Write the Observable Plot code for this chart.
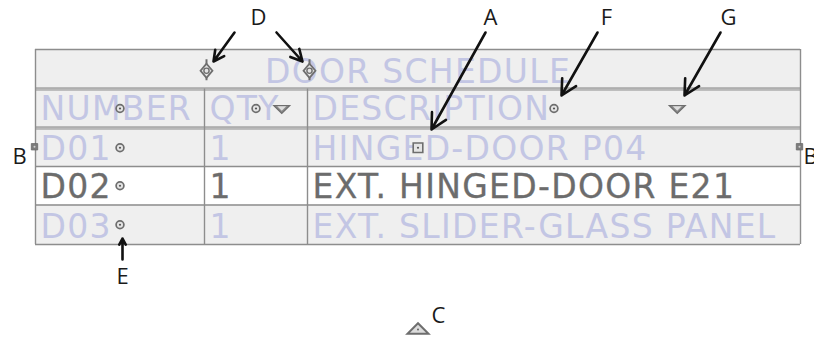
<!DOCTYPE html>
<html>
<head>
<meta charset="utf-8">
<script src="https://cdn.jsdelivr.net/npm/d3@7"></script>
<script src="https://cdn.jsdelivr.net/npm/@observablehq/plot@0.6"></script>
<style>
  html, body { margin: 0; padding: 0; background: #ffffff; overflow: hidden; }
  #chart svg { display: block; }
</style>
</head>
<body>
<div id="chart"></div>
<script>
// ---------- table content ----------
const title = "DOOR SCHEDULE";
const headers = ["NUMBER", "QTY", "DESCRIPTION"];
const numbers = ["D01", "D02", "D03"];
const qtys = ["1", "1", "1"];
const descriptions = ["HINGED-DOOR P04", "EXT. HINGED-DOOR E21", "EXT. SLIDER-GLASS PANEL"];
const activeRow = "D02";

// ---------- callout labels ----------
const labelNames = ["D", "A", "F", "G", "B", "B", "E", "C"];
const labelX     = [258, 490, 606, 728, 19, 810, 122, 438];
const labelY     = [24, 24, 24, 24, 163, 163, 283, 322];
const labelAnchor = ["middle", "middle", "middle", "middle", "middle", "start", "middle", "middle"];

// ---------- callout arrows (tail -> head) ----------
const arrowX1 = [234, 276, 485, 597, 720, 122];
const arrowY1 = [32, 32, 32, 32, 32, 259];
const arrowX2 = [213, 302, 431, 561, 684, 122];
const arrowY2 = [61, 61, 129, 95, 95, 238];

// ---------- layout ----------
const W = 814, H = 339;
const colEdges = [35, 204, 307, 800];
const rowTop = [49, 89.5, 128.5, 166, 204.5];
const rowBottom = [87.5, 126.5, 166, 204.5, 244];
const doubleRules = [88.5, 127.5];
const pad = 5, baseOff = 7;
const tableFont = "DejaVu Sans, Verdana, sans-serif";
const labelFont = "Open Sans, Noto Sans, sans-serif";
const faded = "#c3c6e4", activeInk = "#6c6c6c";
const lineColor = "#8d8d8d", cellFill = "#efefef";
const gripStroke = "#6e6e6e", gripFill = "#e4e4e4";

const tableLeft = colEdges[0], tableRight = colEdges[colEdges.length - 1];
const tableMid = (tableLeft + tableRight) / 2;
const rowMid = i => (rowTop[i] + rowBottom[i]) / 2;
const colMid = j => (colEdges[j] + colEdges[j + 1]) / 2;

// rows: 0 title, 1 header, 2.. data rows
const bodyRows = numbers.map((n, i) => ({number: n, qty: qtys[i], description: descriptions[i], row: i + 2}));
const bgRows = rowTop.map((t, i) => ({
  y1: t, y2: rowBottom[i],
  fill: (i >= 2 && bodyRows[i - 2].number === activeRow) ? "#ffffff" : cellFill
}));

// cell texts
const cells = [];
headers.forEach((h, j) => cells.push({text: h, x: colEdges[j] + pad, y: rowBottom[1] - baseOff, active: false}));
bodyRows.forEach(r => {
  [r.number, r.qty, r.description].forEach((t, j) =>
    cells.push({text: t, x: colEdges[j] + pad, y: rowBottom[r.row] - baseOff, active: r.number === activeRow}));
});
const fadedCells = cells.filter(d => !d.active);
const activeCells = cells.filter(d => d.active);

// horizontal rules
const hRules = [rowTop[0], ...rowBottom.slice(2)];
const dRules = doubleRules.flatMap(y => [y - 1, y + 1]);
// vertical rules
const vInner = colEdges.slice(1, -1).map(x => ({x, y1: rowTop[1] - 1, y2: rowBottom[4]}));
const vOuter = [tableLeft, tableRight].map(x => ({x, y1: rowTop[0], y2: rowBottom[4]}));

// grips
const circleGrips = [
  ...headers.map((h, j) => ({x: colMid(j), y: rowMid(1)})),
  ...bodyRows.map(r => ({x: colMid(0), y: rowMid(r.row)}))
];
const menuGrips = [1, 2].map(j => ({x: colEdges[j] + 0.75 * (colEdges[j + 1] - colEdges[j]), y: rowMid(1) + 1}));
const colGrips = colEdges.slice(1, -1).map(x => ({x: x + 2, y: rowMid(0) + 2}));
const squareGrip = [{x: tableMid, y: rowMid(2)}];
const edgeGrips = [{x: tableLeft - 1, y: rowMid(2) - 1}, {x: tableRight - 1, y: rowMid(2) - 1}];
const baseGrip = [{x: tableMid, y: rowBottom[4] + 84}];

// custom symbols (size = PI r^2)
const rad = s => Math.sqrt(s / Math.PI);
const triDown = {draw(c, s) { const r = rad(s); c.moveTo(-r, -r / 2); c.lineTo(r, -r / 2); c.lineTo(0, r / 2); c.closePath(); }};
const triUp = {draw(c, s) { const r = rad(s); c.moveTo(-r, r / 2); c.lineTo(r, r / 2); c.lineTo(0, -r / 2); c.closePath(); }};
const rhombus = {draw(c, s) { const r = rad(s); c.moveTo(0, -r); c.lineTo(r * 0.85, 0); c.lineTo(0, r); c.lineTo(-r * 0.85, 0); c.closePath(); }};
const box = {draw(c, s) { const r = rad(s); c.rect(-r, -r, 2 * r, 2 * r); }};

const labels = labelNames.map((t, i) => ({text: t, x: labelX[i], y: labelY[i], anchor: labelAnchor[i]}));
const arrows = arrowX1.map((x1, i) => ({x1, y1: arrowY1[i], x2: arrowX2[i], y2: arrowY2[i]}));

const chart = Plot.plot({
  width: W, height: H,
  margin: 0,
  x: {type: "linear", domain: [0, W], range: [0, W]},
  y: {type: "linear", domain: [0, H], range: [0, H]},
  axis: null,
  style: {background: "#ffffff", overflow: "hidden"},
  marks: [
    // backgrounds
    Plot.rect(bgRows, {x1: tableLeft, x2: tableRight, y1: "y1", y2: "y2", fill: "fill"}),
    Plot.rect(doubleRules, {x1: tableLeft, x2: tableRight, y1: d => d - 1, y2: d => d + 1, fill: "#cfcfcf"}),
    // rules
    Plot.ruleY(hRules, {x1: tableLeft, x2: tableRight, stroke: lineColor, strokeWidth: 1.4}),
    Plot.ruleY(dRules, {x1: tableLeft, x2: tableRight, stroke: lineColor, strokeWidth: 1.2}),
    Plot.ruleX(vInner, {x: "x", y1: "y1", y2: "y2", stroke: lineColor, strokeWidth: 1.4}),
    Plot.ruleX(vOuter, {x: "x", y1: "y1", y2: "y2", stroke: lineColor, strokeWidth: 1.4}),
    // title
    Plot.text([title], {x: tableMid, y: rowBottom[0] - 5.5, text: d => d, textAnchor: "middle", lineAnchor: "bottom",
      fontFamily: tableFont, fontSize: 33, fill: faded}),
    // faded cells
    Plot.text(fadedCells, {x: "x", y: "y", text: "text", textAnchor: "start", lineAnchor: "bottom",
      fontFamily: tableFont, fontSize: 33, fill: faded}),
    // active (selected) row, a touch heavier
    Plot.text(activeCells, {x: "x", y: "y", text: "text", textAnchor: "start", lineAnchor: "bottom",
      fontFamily: tableFont, fontSize: 33, fill: activeInk, stroke: activeInk, strokeWidth: 0.3}),
    // column-width grips (D)
    Plot.ruleX(colGrips, {x: "x", y1: d => d.y - 11, y2: d => d.y + 10, stroke: gripStroke, strokeWidth: 2}),
    Plot.dot(colGrips, {x: "x", y: "y", r: 7, symbol: rhombus, fill: gripFill, stroke: gripStroke, strokeWidth: 1.8}),
    Plot.dot(colGrips, {x: "x", y: "y", r: 2.6, fill: gripFill, stroke: gripStroke, strokeWidth: 1.4}),
    // circular grips
    Plot.dot(circleGrips, {x: "x", y: "y", r: 3.9, fill: gripFill, stroke: gripStroke, strokeWidth: 1.7}),
    Plot.dot(circleGrips, {x: "x", y: "y", r: 1.1, fill: "#555555"}),
    // menu (down triangle) grips
    Plot.dot(menuGrips, {x: "x", y: "y", r: 8, symbol: triDown, fill: "#8a8a8a", stroke: gripStroke, strokeWidth: 1.2}),
    Plot.dot(menuGrips, {x: "x", y: "y", r: 4.5, dy: -1, symbol: triDown, fill: "#dedede"}),
    // square grip (A)
    Plot.dot(squareGrip, {x: "x", y: "y", r: 4.8, symbol: box, fill: gripFill, stroke: gripStroke, strokeWidth: 1.6}),
    Plot.dot(squareGrip, {x: "x", y: "y", r: 1.1, fill: "#555555"}),
    // edge grips (B)
    Plot.dot(edgeGrips, {x: "x", y: "y", r: 3.2, symbol: box, fill: "#7c7c7c", stroke: "#6a6a6a", strokeWidth: 0.8}),
    Plot.dot(edgeGrips, {x: "x", y: "y", r: 1, fill: "#cfcfcf"}),
    // base triangle grip (C)
    Plot.dot(baseGrip, {x: "x", y: "y", r: 10.5, symbol: triUp, fill: "#dcdcdc", stroke: gripStroke, strokeWidth: 2}),
    Plot.dot(baseGrip, {x: "x", y: "y", r: 0.9, dy: 1, fill: "#555555"}),
    // callout arrows
    Plot.arrow(arrows, {x1: "x1", y1: "y1", x2: "x2", y2: "y2", stroke: "#111111", strokeWidth: 2.6,
      headLength: 10, headAngle: 55}),
    // callout labels
    Plot.text(labels, {x: "x", y: "y", text: "text", textAnchor: "anchor", lineAnchor: "bottom",
      fontFamily: labelFont, fontSize: 22, fill: "#1a1a1a"})
  ]
});
// widen the table lettering a little, like the drafting font of the original
d3.select(chart).selectAll("g[font-family^='DejaVu']").style("letter-spacing", "1.3px");
document.getElementById("chart").appendChild(chart);
</script>
</body>
</html>
